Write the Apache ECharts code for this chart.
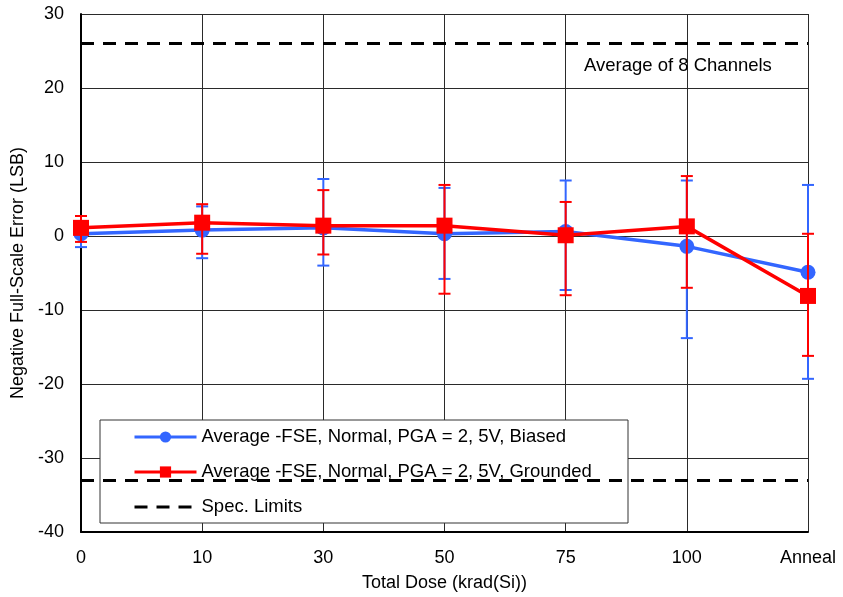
<!DOCTYPE html>
<html>
<head>
<meta charset="utf-8">
<script src="https://cdn.jsdelivr.net/npm/echarts@6/dist/echarts.min.js"></script>
<style>
  html, body { margin: 0; padding: 0; background: #fff; }
  #chart { width: 843px; height: 597px; }
</style>
</head>
<body>
<div id="chart"></div>
<script>
// Dose steps along the x axis
const categories = ['0', '10', '30', '50', '75', '100', 'Anneal'];

// Biased units: mean negative full-scale error and min/max range (LSB)
const biasedMean = [0.3, 0.8, 1.1, 0.3, 0.6, -1.4, -4.9];
const biasedHigh = [2.0, 4.0, 7.7, 6.5, 7.5, 7.5, 6.9];
const biasedLow  = [-1.5, -3.0, -4.0, -5.8, -7.3, -13.8, -19.3];

// Grounded units: mean negative full-scale error and min/max range (LSB)
const groundedMean = [1.1, 1.8, 1.4, 1.4, 0.1, 1.3, -8.1];
const groundedHigh = [2.7, 4.3, 6.2, 6.9, 4.6, 8.1, 0.3];
const groundedLow  = [-0.8, -2.4, -2.5, -7.8, -8.0, -7.0, -16.2];

// Specification limits (LSB)
const specUpper = 26;
const specLower = -33;

// Y axis range
const yMin = -40, yMax = 30, yStep = 10;

const seriesNames = [
  'Average -FSE, Normal, PGA = 2, 5V, Biased',
  'Average -FSE, Normal, PGA = 2, 5V, Grounded',
  'Spec. Limits'
];

const BLUE = '#3366ff';
const RED = '#ff0000';
const FONT = 'Liberation Sans, Arial, sans-serif';
const DASH = [13, 9];

function errorData(low, high) {
  return categories.map((c, i) => [i, low[i], high[i]]);
}

// Vertical min/max bar with short caps at each end
function errorBarSeries(low, high, color, z) {
  return {
    type: 'custom',
    silent: true,
    z: z,
    data: errorData(low, high),
    encode: { x: 0, y: [1, 2] },
    renderItem: function (params, api) {
      const i = api.value(0);
      const lo = api.coord([i, api.value(1)]);
      const hi = api.coord([i, api.value(2)]);
      const cap = 6;
      const style = { stroke: color, lineWidth: 2 };
      return {
        type: 'group',
        children: [
          { type: 'line', shape: { x1: lo[0], y1: lo[1], x2: hi[0], y2: hi[1] }, style: style },
          { type: 'line', shape: { x1: lo[0] - cap, y1: lo[1], x2: lo[0] + cap, y2: lo[1] }, style: style },
          { type: 'line', shape: { x1: hi[0] - cap, y1: hi[1], x2: hi[0] + cap, y2: hi[1] }, style: style }
        ]
      };
    }
  };
}

const chart = echarts.init(document.getElementById('chart'), null, { renderer: 'canvas' });

chart.setOption({
  animation: false,
  backgroundColor: '#fff',
  textStyle: { fontFamily: FONT },
  grid: { left: 81, right: 35, top: 14, bottom: 65, containLabel: false },
  xAxis: {
    type: 'category',
    data: categories,
    boundaryGap: false,
    name: 'Total Dose (krad(Si))',
    nameLocation: 'middle',
    nameGap: 42,
    nameTextStyle: { fontSize: 18, color: '#000', fontFamily: FONT },
    axisLine: { onZero: false, lineStyle: { color: '#000', width: 2 } },
    axisTick: { show: false },
    axisLabel: { fontSize: 18, color: '#000', margin: 17, fontFamily: FONT },
    splitLine: { show: true, lineStyle: { color: '#2a2a2a', width: 1 } }
  },
  yAxis: {
    type: 'value',
    min: yMin,
    max: yMax,
    interval: yStep,
    name: 'Negative Full-Scale Error (LSB)',
    nameLocation: 'middle',
    nameGap: 52,
    nameTextStyle: { fontSize: 18, color: '#000', fontFamily: FONT },
    axisLine: { show: true, onZero: false, lineStyle: { color: '#000', width: 2 } },
    axisTick: { show: false },
    axisLabel: { fontSize: 18, color: '#000', margin: 17, fontFamily: FONT },
    splitLine: { show: true, lineStyle: { color: '#2a2a2a', width: 1 } }
  },
  legend: {
    data: [
      { name: seriesNames[0] },
      { name: seriesNames[1] },
      { name: seriesNames[2], itemStyle: { color: 'rgba(0,0,0,0)', borderWidth: 0 } }
    ],
    orient: 'vertical',
    left: 133,
    top: 427,
    z: 10,
    itemWidth: 62,
    itemHeight: 14,
    itemGap: 15,
    padding: 0,
    selectedMode: false,
    lineStyle: { width: 3 },
    textStyle: { fontSize: 18.5, color: '#000', fontFamily: FONT, lineHeight: 20, padding: [0, 0, 0, 0] }
  },
  graphic: [
    {
      type: 'rect',
      z: 5,
      shape: { x: 100, y: 420, width: 528, height: 103 },
      style: { fill: '#fff', stroke: '#333', lineWidth: 1 }
    },
    {
      type: 'text',
      z: 5,
      left: 584,
      top: 56,
      style: { text: 'Average of 8 Channels', fontSize: 18.5, fill: '#000', fontFamily: FONT }
    }
  ],
  series: [
    {
      name: seriesNames[2],
      type: 'line',
      data: [],
      symbol: 'none',
      z: 2,
      lineStyle: { color: '#000', width: 3, type: DASH },
      itemStyle: { color: '#000' },
      markLine: {
        silent: true,
        symbol: 'none',
        label: { show: false },
        lineStyle: { color: '#000', width: 3, type: DASH },
        data: [{ yAxis: specUpper }, { yAxis: specLower }]
      }
    },
    errorBarSeries(biasedLow, biasedHigh, BLUE, 3),
    {
      name: seriesNames[0],
      type: 'line',
      data: biasedMean,
      z: 4,
      symbol: 'circle',
      symbolSize: 15,
      lineStyle: { color: BLUE, width: 3.5 },
      itemStyle: { color: BLUE }
    },
    errorBarSeries(groundedLow, groundedHigh, RED, 5),
    {
      name: seriesNames[1],
      type: 'line',
      data: groundedMean,
      z: 6,
      symbol: 'rect',
      symbolSize: 16,
      lineStyle: { color: RED, width: 3.5 },
      itemStyle: { color: RED }
    }
  ]
});
</script>
</body>
</html>
